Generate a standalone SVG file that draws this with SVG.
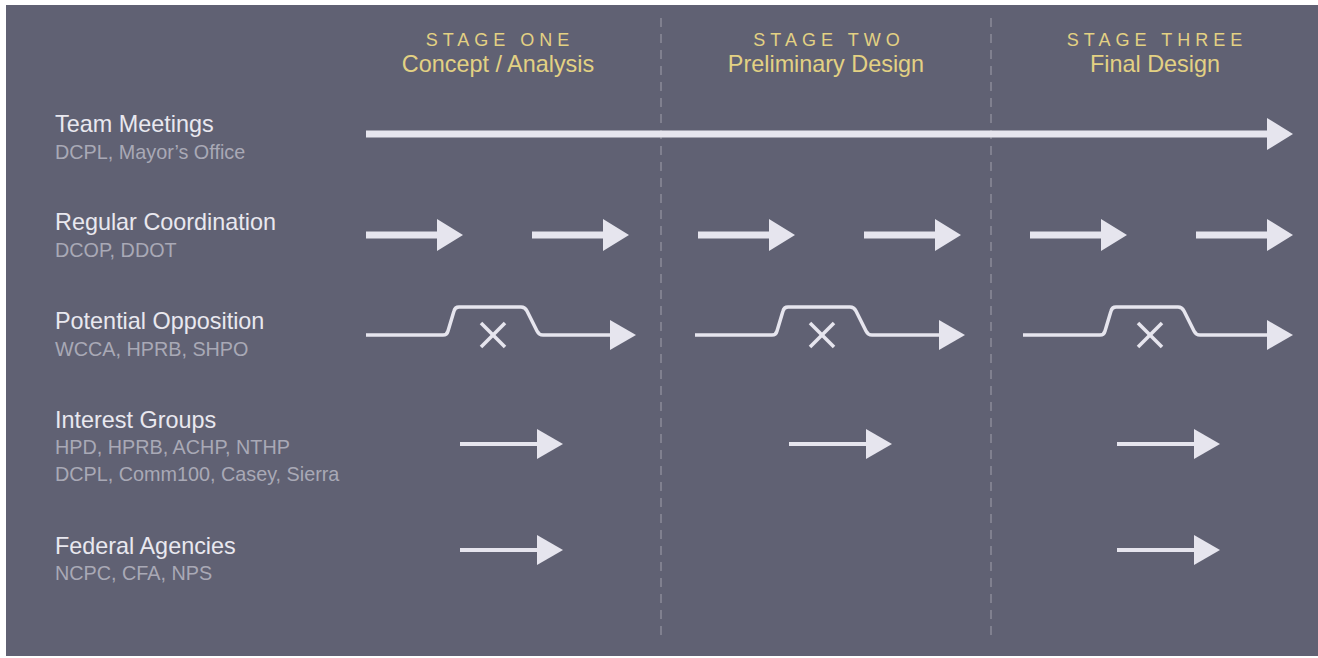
<svg xmlns="http://www.w3.org/2000/svg" width="1318" height="658" viewBox="0 0 1318 658">
  <defs>
    <style>
      .stage { font-family: "Liberation Sans", Arial, sans-serif; font-size: 18px; letter-spacing: 5px; fill: #e3d183; text-anchor: middle; }
      .phase { font-family: "Liberation Sans", Arial, sans-serif; font-size: 23.4px; fill: #e3d183; text-anchor: middle; }
      .title { font-family: "Liberation Sans", Arial, sans-serif; font-size: 23.4px; fill: #e9e8ef; }
      .sub { font-family: "Liberation Sans", Arial, sans-serif; font-size: 19.8px; fill: #a9a9b6; }
      .divider { stroke: #8b8b99; stroke-width: 1.5; stroke-dasharray: 9 7; fill: none; }
      .thick { stroke: #e6e5ee; stroke-width: 7; fill: none; }
      .thin { stroke: #e6e5ee; stroke-width: 4; fill: none; }
      .detour { stroke: #e6e5ee; stroke-width: 3.5; fill: none; stroke-linejoin: round; }
      .cross { stroke: #e6e5ee; stroke-width: 3.5; stroke-linecap: butt; }
      .head { fill: #e6e5ee; }
    </style>
    <!-- arrowheads, tip at the origin -->
    <polygon id="headBig" class="head" points="-26,-16 0,0 -26,16"/>
    <polygon id="headSmall" class="head" points="-26,-15 0,0 -26,15"/>
    <!-- short thick arrow, 97 px long -->
    <g id="shortThick">
      <line class="thick" x1="0" y1="0" x2="72" y2="0"/>
      <use href="#headBig" x="97" y="0"/>
    </g>
    <!-- short thin arrow, 103 px long -->
    <g id="shortThin">
      <line class="thin" x1="0" y1="0" x2="78" y2="0"/>
      <use href="#headSmall" x="103" y="0"/>
    </g>
    <!-- blocked path: bump over an obstacle, then continue -->
    <g id="blocked">
      <path class="detour" d="M0,0 H77 Q81,0 82,-4 L88,-24 Q89,-28 93,-28 H155 Q159,-28 161,-24 L171,-4 Q173,0 177,0 H245"/>
      <line class="cross" x1="115" y1="-12" x2="139" y2="12"/>
      <line class="cross" x1="139" y1="-12" x2="115" y2="12"/>
      <use href="#headSmall" x="270" y="0"/>
    </g>
  </defs>

  <!-- panel -->
  <rect x="6" y="5" width="1312" height="651" fill="#606173"/>

  <!-- stage dividers -->
  <g id="dividers">
    <line class="divider" x1="661" y1="18" x2="661" y2="640"/>
    <line class="divider" x1="991" y1="18" x2="991" y2="640"/>
  </g>

  <!-- stage headings -->
  <g id="stage-one">
    <text class="stage" x="500" y="46">STAGE ONE</text>
    <text class="phase" x="498" y="72">Concept / Analysis</text>
  </g>
  <g id="stage-two">
    <text class="stage" x="829" y="46">STAGE TWO</text>
    <text class="phase" x="826" y="72">Preliminary Design</text>
  </g>
  <g id="stage-three">
    <text class="stage" x="1157" y="46">STAGE THREE</text>
    <text class="phase" x="1155" y="72">Final Design</text>
  </g>

  <!-- row labels -->
  <g id="team-meetings">
    <text class="title" x="55" y="132">Team Meetings</text>
    <text class="sub" x="55" y="159">DCPL, Mayor’s Office</text>
  </g>
  <g id="regular-coordination">
    <text class="title" x="55" y="230">Regular Coordination</text>
    <text class="sub" x="55" y="257">DCOP, DDOT</text>
  </g>
  <g id="potential-opposition">
    <text class="title" x="55" y="329">Potential Opposition</text>
    <text class="sub" x="55" y="356">WCCA, HPRB, SHPO</text>
  </g>
  <g id="interest-groups">
    <text class="title" x="55" y="428">Interest Groups</text>
    <text class="sub" x="55" y="454">HPD, HPRB, ACHP, NTHP</text>
    <text class="sub" x="55" y="481">DCPL, Comm100, Casey, Sierra</text>
  </g>
  <g id="federal-agencies">
    <text class="title" x="55" y="554">Federal Agencies</text>
    <text class="sub" x="55" y="580">NCPC, CFA, NPS</text>
  </g>

  <!-- connectors -->
  <g id="connectors">
    <!-- continuous team meetings -->
    <line class="thick" x1="366" y1="134" x2="1270" y2="134"/>
    <use href="#headBig" x="1293" y="134"/>

    <!-- regular coordination -->
    <use href="#shortThick" x="366" y="235"/>
    <use href="#shortThick" x="532" y="235"/>
    <use href="#shortThick" x="698" y="235"/>
    <use href="#shortThick" x="864" y="235"/>
    <use href="#shortThick" x="1030" y="235"/>
    <use href="#shortThick" x="1196" y="235"/>

    <!-- potential opposition -->
    <use href="#blocked" x="366" y="335"/>
    <use href="#blocked" x="695" y="335"/>
    <use href="#blocked" x="1023" y="335"/>

    <!-- interest groups -->
    <use href="#shortThin" x="460" y="444"/>
    <use href="#shortThin" x="789" y="444"/>
    <use href="#shortThin" x="1117" y="444"/>

    <!-- federal agencies -->
    <use href="#shortThin" x="460" y="550"/>
    <use href="#shortThin" x="1117" y="550"/>
  </g>
</svg>
